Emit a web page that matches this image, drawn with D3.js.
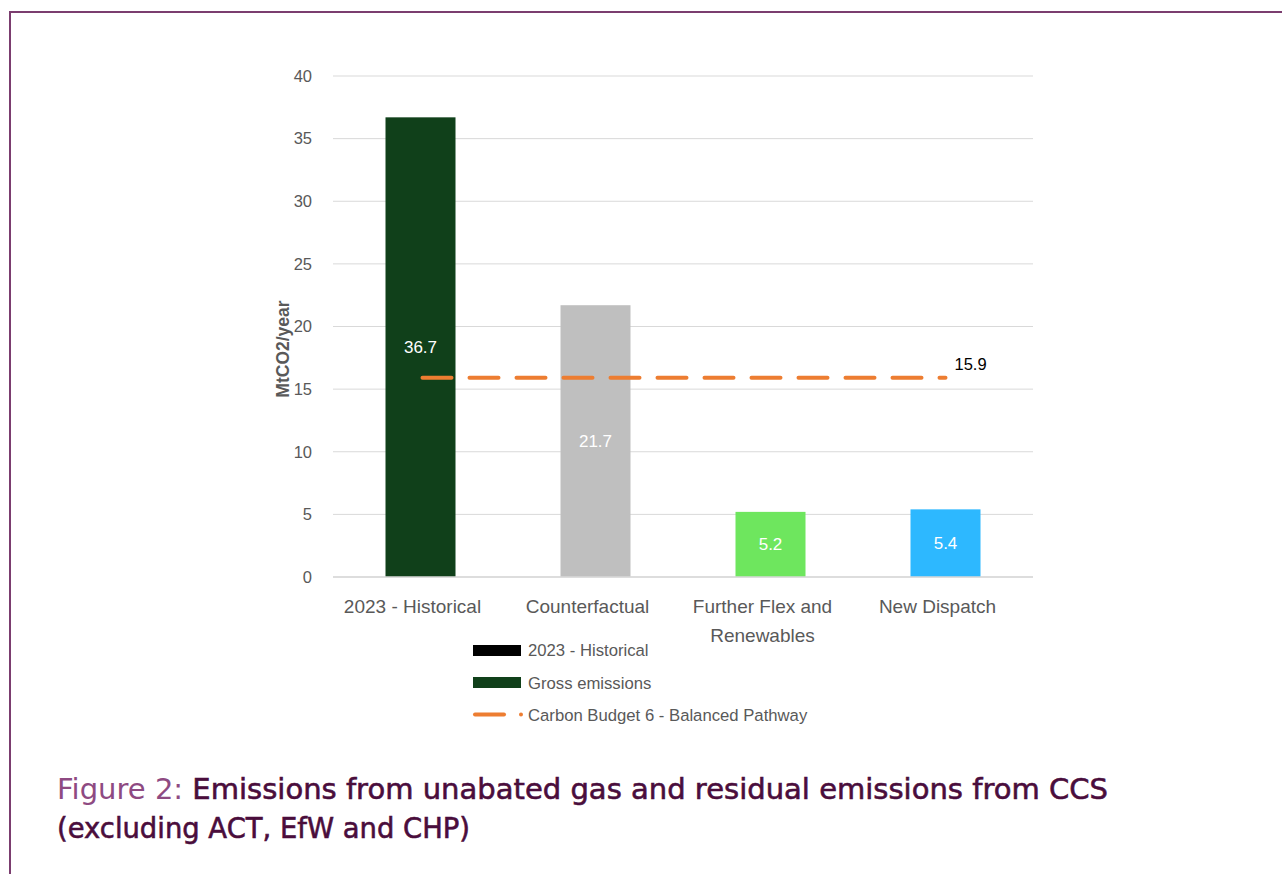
<!DOCTYPE html>
<html>
<head>
<meta charset="utf-8">
<script src="https://cdn.jsdelivr.net/npm/d3@7"></script>
<style>
body { margin: 0; background: #fff; }
text { font-family: "Liberation Sans", Arial, sans-serif; }
</style>
</head>
<body>
<div id="chart"></div>
<script>
// data
var categories = ["2023 - Historical", "Counterfactual", "Further Flex and Renewables", "New Dispatch"];
var values = [36.7, 21.7, 5.2, 5.4];
var barColors = ["#10401a", "#bfbfbf", "#6ee65e", "#2db8ff"];
var budget = 15.9;
var yTicks = [0, 5, 10, 15, 20, 25, 30, 35, 40];
var legendItems = ["2023 - Historical", "Gross emissions", "Carbon Budget 6 - Balanced Pathway"];

var w = 1282, h = 874;
var svg = d3.select("#chart").append("svg").attr("width", w).attr("height", h);

// frame
svg.append("path").attr("d", "M10,874 V12 H1282")
  .attr("fill", "none").attr("stroke", "#7b3d6f").attr("stroke-width", 2);

var x = d3.scaleBand().domain(categories).range([333, 1033]).paddingInner(0.6).paddingOuter(0.3);
var y = d3.scaleLinear().domain([0, 40]).range([577, 76]);

// gridlines
svg.append("g").selectAll("line").data(yTicks).enter().append("line")
  .attr("x1", 333).attr("x2", 1033)
  .attr("y1", function(d){ return y(d); }).attr("y2", function(d){ return y(d); })
  .attr("stroke", "#d9d9d9").attr("stroke-width", 1);

// y axis
var yAxis = svg.append("g").attr("transform", "translate(318,0)")
  .call(d3.axisLeft(y).tickValues(yTicks).tickSize(0).tickPadding(6));
yAxis.select(".domain").remove();
yAxis.selectAll("text").attr("font-size", 16.5).attr("fill", "#595959")
  .style("font-family", "Liberation Sans, Arial, sans-serif");

svg.append("text").attr("transform", "translate(289,349) rotate(-90)")
  .attr("text-anchor", "middle").attr("font-size", 17.5).attr("font-weight", "bold")
  .attr("fill", "#595959").text("MtCO2/year");

// bars
svg.append("g").selectAll("rect").data(values).enter().append("rect")
  .attr("x", function(d, i){ return x(categories[i]); })
  .attr("width", x.bandwidth())
  .attr("y", function(d){ return y(d); })
  .attr("height", function(d){ return y(0) - y(d); })
  .attr("fill", function(d, i){ return barColors[i]; });

// baseline
svg.append("line").attr("x1", 333).attr("x2", 1033).attr("y1", y(0)).attr("y2", y(0))
  .attr("stroke", "#d9d9d9").attr("stroke-width", 1.5);

// bar labels
svg.append("g").selectAll("text").data(values).enter().append("text")
  .attr("x", function(d, i){ return x(categories[i]) + x.bandwidth()/2; })
  .attr("y", function(d){ return y(d/2) + 6; })
  .attr("text-anchor", "middle").attr("font-size", 17).attr("fill", "#fff")
  .text(function(d){ return d.toFixed(1); });

// carbon budget line
var cx0 = x(categories[0]) + x.bandwidth()/2;
var cx1 = x(categories[3]) + x.bandwidth()/2;
svg.append("line").attr("x1", cx0 + 2).attr("x2", cx1).attr("y1", y(budget)).attr("y2", y(budget))
  .attr("stroke", "#ed7d31").attr("stroke-width", 4).attr("stroke-linecap", "round")
  .attr("stroke-dasharray", "29 18");
svg.append("text").attr("x", cx1 + 9).attr("y", y(budget) - 8)
  .attr("font-size", 16.5).attr("fill", "#000").text(budget.toFixed(1));

// x labels (sit a little left of the bar centres, as in the original)
var xl = svg.append("g").selectAll("text").data(categories).enter().append("text")
  .attr("x", function(d){ return x(d) + x.bandwidth()/2 - 8; })
  .attr("y", 613).attr("text-anchor", "middle").attr("font-size", 19).attr("fill", "#595959");
xl.each(function(d){
  var t = d3.select(this);
  var lines = d === "Further Flex and Renewables" ? ["Further Flex and", "Renewables"] : [d];
  lines.forEach(function(s, k){
    t.append("tspan").attr("x", t.attr("x")).attr("dy", k ? 29 : 0).text(s);
  });
});

// legend
var lg = svg.append("g");
lg.append("rect").attr("x", 473).attr("y", 645).attr("width", 48).attr("height", 11).attr("fill", "#000");
lg.append("rect").attr("x", 473).attr("y", 677).attr("width", 48).attr("height", 11).attr("fill", "#10401a");
lg.append("line").attr("x1", 475).attr("x2", 504).attr("y1", 714.5).attr("y2", 714.5)
  .attr("stroke", "#ed7d31").attr("stroke-width", 4).attr("stroke-linecap", "round");
lg.append("circle").attr("cx", 521).attr("cy", 714.5).attr("r", 2).attr("fill", "#ed7d31");
lg.selectAll("text").data(legendItems).enter().append("text")
  .attr("x", 528).attr("y", function(d, i){ return 656 + i * 32.5; })
  .attr("font-size", 16.7).attr("fill", "#595959").text(function(d){ return d; });

// caption
var capFont = "'DejaVu Sans', 'Noto Sans', sans-serif";
var cap = svg.append("text").attr("x", 57).attr("y", 799)
  .attr("font-size", 29).style("font-family", capFont).attr("fill", "#4a0d3c")
  .attr("stroke", "#4a0d3c").attr("stroke-width", 0.6)
  .attr("textLength", 1051).attr("lengthAdjust", "spacingAndGlyphs");
cap.append("tspan").attr("fill", "#8e4a82").attr("stroke", "none").text("Figure 2:  ");
cap.append("tspan").text("Emissions from unabated gas and residual emissions from CCS");
svg.append("text").attr("x", 57).attr("y", 838)
  .attr("font-size", 29).style("font-family", capFont).attr("fill", "#4a0d3c")
  .attr("stroke", "#4a0d3c").attr("stroke-width", 0.6)
  .attr("textLength", 413).attr("lengthAdjust", "spacingAndGlyphs")
  .text("(excluding ACT, EfW and CHP)");
</script>
</body>
</html>
